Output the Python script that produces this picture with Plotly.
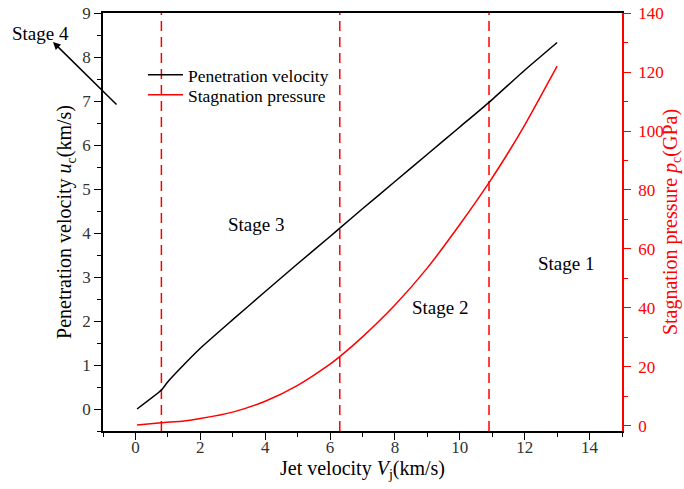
import plotly.graph_objects as go

# Data
jet_v = [0.05, 0.8, 1.0, 1.38, 2.0, 3.0, 3.94, 5.0, 6.0, 6.3, 7.0, 8.0, 9.0, 10.0, 10.9, 12.0, 13.0]
pen_v = [0.0, 0.43, 0.62, 0.92, 1.38, 2.03, 2.63, 3.30, 3.92, 4.11, 4.55, 5.17, 5.79, 6.41, 6.97, 7.70, 8.33]

jet_v_p = [0.05, 0.8, 1.5, 2.0, 3.0, 4.0, 5.0, 6.0, 6.3, 7.0, 8.0, 9.0, 10.0, 10.9, 11.5, 12.0, 13.0]
stag_p = [0.3, 1.1, 1.7, 2.5, 4.7, 8.4, 13.8, 21.0, 23.5, 30.2, 41.0, 53.6, 68.3, 82.5, 92.8, 102.0, 122.0]

stage_bounds = [0.8, 6.3, 10.9]
stage_labels = ["Stage 1", "Stage 2", "Stage 3", "Stage 4"]
stage_pos_x = [13.26, 9.39, 3.73]
stage_pos_y = [3.3, 2.3, 4.2]

FONT = "Liberation Serif, Times New Roman, serif"
RED = "#FF0000"
TICK_SIZE = 17
TITLE_SIZE = 20

fig = go.Figure()
fig.add_trace(go.Scatter(x=jet_v, y=pen_v, mode="lines", name="Penetration velocity",
                         line=dict(color="black", width=1.5, shape="spline", smoothing=0.5),
                         legend="legend"))
fig.add_trace(go.Scatter(x=jet_v_p, y=stag_p, mode="lines", name="Stagnation pressure",
                         line=dict(color=RED, width=1.5, shape="spline", smoothing=0.6),
                         yaxis="y2", legend="legend2"))

for xb in stage_bounds:
    fig.add_shape(type="line", x0=xb, x1=xb, y0=0, y1=1, xref="x", yref="paper",
                  line=dict(color=RED, width=1.5, dash="10px,6px"), layer="below")

for lab, sx, sy in zip(stage_labels[:3], stage_pos_x, stage_pos_y):
    fig.add_annotation(x=sx, y=sy, xref="x", yref="y", text=lab, showarrow=False,
                       xanchor="center", yanchor="middle",
                       font=dict(family=FONT, size=19, color="black"))

# Stage 4 label and arrow (outside the plot area)
fig.add_annotation(x=-0.1204, y=0.9498, xref="paper", yref="paper", text=stage_labels[3],
                   showarrow=False, xanchor="center", yanchor="middle",
                   font=dict(family=FONT, size=19, color="black"))
fig.add_annotation(x=-0.0963, y=0.9306, xref="paper", yref="paper", text="",
                   showarrow=True, arrowhead=2, arrowsize=1, arrowwidth=1.5,
                   arrowcolor="black", ax=65, ay=64)

legend_common = dict(xanchor="left", yanchor="middle", bgcolor="rgba(0,0,0,0)",
                     font=dict(family=FONT, size=17.5), itemwidth=35)

fig.update_layout(
    width=684, height=489,
    margin=dict(l=103, r=62, t=13, b=58, autoexpand=False),
    paper_bgcolor="white", plot_bgcolor="white",
    font=dict(family=FONT, size=17, color="black"),
    showlegend=True,
    legend=dict(x=0.077, y=0.8517, **legend_common),
    legend2=dict(x=0.077, y=0.804, **legend_common),
    xaxis=dict(range=[-1, 15], tick0=0, dtick=2, ticks="outside", ticklen=7,
               tickcolor="black", showline=True, linecolor="black", linewidth=1.5,
               mirror=True, showgrid=False, zeroline=False, automargin=False,
               ticklabeloverflow="allow", ticklabelstandoff=-7,
               tickfont=dict(family=FONT, size=TICK_SIZE, color="#333"),
               minor=dict(ticks="outside", ticklen=4, dtick=1, tick0=1, tickcolor="black"),
               title=dict(text="Jet velocity <i>V</i><sub>j</sub>(km/s)",
                          font=dict(family=FONT, size=TITLE_SIZE), standoff=3)),
    xaxis2=dict(range=[-1, 15], overlaying="x", side="top", tick0=0, dtick=2,
                ticks="inside", ticklen=7, tickcolor="black", showticklabels=False,
                showline=False, showgrid=False, zeroline=False, automargin=False),
    yaxis=dict(range=[-0.5, 9], tick0=0, dtick=1, ticks="outside", ticklen=7,
               tickcolor="black", showline=True, linecolor="black", linewidth=1.5,
               showgrid=False, zeroline=False, automargin=False,
               ticklabeloverflow="allow",
               tickfont=dict(family=FONT, size=TICK_SIZE, color="#333"),
               minor=dict(ticks="outside", ticklen=4, dtick=0.5, tickcolor="black"),
               title=dict(text="Penetration velocity <i>u</i><sub>c</sub>(km/s)",
                          font=dict(family=FONT, size=TITLE_SIZE), standoff=5)),
    yaxis2=dict(range=[-1.7, 140], overlaying="y", side="right", tick0=0, dtick=20,
                ticks="outside", ticklen=7, tickcolor=RED, showline=True,
                linecolor=RED, linewidth=1.5, showgrid=False, zeroline=False,
                automargin=False, ticklabeloverflow="allow", ticklabelstandoff=4,
                tickfont=dict(family=FONT, size=TICK_SIZE, color=RED),
                minor=dict(ticks="outside", ticklen=4, dtick=10, tickcolor=RED),
                title=dict(text="Stagnation pressure <i>p</i><sub>c</sub>(GPa)",
                           font=dict(family=FONT, size=TITLE_SIZE, color=RED), standoff=2)),
)

fig.write_html("out.html", config={"displayModeBar": False},
               post_script="document.body.style.margin='0';")
